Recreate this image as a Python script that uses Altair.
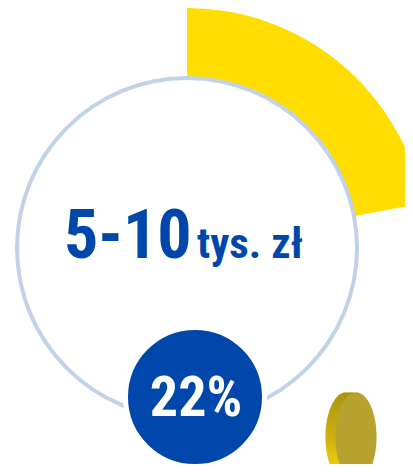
import altair as alt
import pandas as pd

share = [22]
main_label = ["5-10"]
unit_label = ["tys. zł"]
pct_label = ["22%"]

BLUE = "#0047ab"
YELLOW = "#ffdd00"
RING = "#c2d3e9"
FONT = "Roboto Condensed"
ELL = "M -0.46 0 A 0.46 1 0 1 1 0.46 0 A 0.46 1 0 1 1 -0.46 0 Z"

df = pd.DataFrame({"start": [0], "full": [100], "share": share,
                   "main": main_label, "unit": unit_label, "pct": pct_label})
base = alt.Chart(df)
th = alt.Scale(domain=[0, 100], range=[0, 6.283185307])

cx, cy = 179, 240

wedge = base.mark_arc(color=YELLOW, radius=170, radius2=240).encode(
    x=alt.value(cx), y=alt.value(cy),
    theta=alt.Theta("start:Q", scale=th), theta2=alt.Theta2("share:Q"))
ring = base.mark_arc(color=RING, radius=168, radius2=172).encode(
    x=alt.value(cx), y=alt.value(cy),
    theta=alt.Theta("start:Q", scale=th), theta2=alt.Theta2("full:Q"))

badge = base.mark_circle(color=BLUE, size=139 * 139, opacity=1,
                         stroke="white", strokeWidth=5).encode(
    x=alt.value(187), y=alt.value(389))

edge_fill = alt.Gradient(gradient="linear", x1=0, x2=0, y1=0, y2=1, stops=[
    alt.GradientStop(offset=0, color="#ad9410"),
    alt.GradientStop(offset=0.5, color="#cdb010"),
    alt.GradientStop(offset=1, color="#ffdd00")])
coin_back = base.mark_point(shape=ELL, filled=True, opacity=1, size=8000, color=edge_fill).encode(
    x=alt.value(338), y=alt.value(429))
coin_mid = base.mark_point(shape=ELL, filled=True, opacity=1, size=8000, color=edge_fill).encode(
    x=alt.value(343), y=alt.value(429))
coin_face = base.mark_point(shape=ELL, filled=True, opacity=1, size=8000, color="#b8a22f").encode(
    x=alt.value(348), y=alt.value(429))

t1 = base.mark_text(font=FONT, fontWeight="bold", fontSize=68, color=BLUE, align="left", baseline="alphabetic").encode(
    x=alt.value(56), y=alt.value(250), text="main:N")
t2 = base.mark_text(font=FONT, fontWeight="bold", fontSize=43, color=BLUE, align="left", baseline="alphabetic").encode(
    x=alt.value(189), y=alt.value(250), text="unit:N")
t3 = base.mark_text(font=FONT, fontWeight="bold", fontSize=56, color="white", align="center", baseline="alphabetic").encode(
    x=alt.value(188), y=alt.value(408), text="pct:N")

chart = alt.layer(wedge, ring, badge, coin_back, coin_mid, coin_face, t1, t2, t3).properties(
    width=397, height=456, padding=0, background="white", autosize=alt.AutoSizeParams(type="none")
).configure_view(stroke=None)

chart.save("out.html", embed_options={"renderer": "svg", "actions": False})
